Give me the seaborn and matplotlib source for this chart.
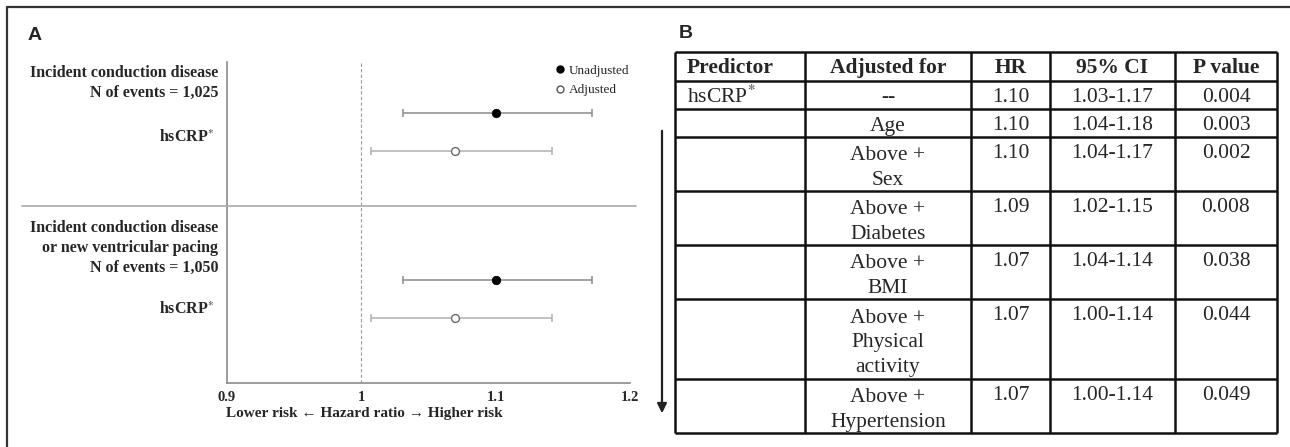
#!/usr/bin/env python3

import numpy as np
import matplotlib
matplotlib.use("Agg")
import matplotlib.pyplot as plt
from matplotlib.lines import Line2D
import pandas as pd
import seaborn as sns
sns.set_style("white")
plt.rcParams['font.family'] = ['Liberation Serif', 'DejaVu Serif']
plt.rcParams['mathtext.fontset'] = 'stix'

W, H = 1290, 447

# ---- panel A data
outcomes = ["Incident conduction disease\nN of events = 1,025",
            "Incident conduction disease\nor new ventricular pacing\nN of events = 1,050"]
models = ["Unadjusted", "Adjusted"]
hr = [1.10, 1.07, 1.10, 1.07]
ci_low = [1.031, 1.007, 1.031, 1.007]
ci_high = [1.172, 1.142, 1.172, 1.142]
x_ticks = [0.9, 1.0, 1.1, 1.2]
x_ticklabels = ["0.9", "1", "1.1", "1.2"]

# ---- panel B data
header = ["Predictor", "Adjusted for", "HR", "95% CI", "P value"]
predictor = ["hsCRP$^{*}$", "", "", "", "", "", ""]
adjusted_for = ["--", "Age", "Above +\nSex", "Above +\nDiabetes", "Above +\nBMI",
                "Above +\nPhysical\nactivity", "Above +\nHypertension"]
table_hr = ["1.10", "1.10", "1.10", "1.09", "1.07", "1.07", "1.07"]
table_ci = ["1.03-1.17", "1.04-1.18", "1.04-1.17", "1.02-1.15", "1.04-1.14", "1.00-1.14", "1.00-1.14"]
table_p = ["0.004", "0.003", "0.002", "0.008", "0.038", "0.044", "0.049"]


def fx(x):
    return x / W


def fy(y):
    return 1 - y / H


def plot_forest(fig):
    # axes placed in pixel space, y in pixels from axes top
    ax = fig.add_axes([fx(227), fy(383), fx(403), 321 / H])
    rows = []
    for g in range(len(outcomes)):
        for m, model in enumerate(models):
            i = g * len(models) + m
            rows.append(dict(outcome=g, model=model, hr=hr[i], lo=ci_low[i], hi=ci_high[i],
                             y=51 + g * 167 + m * 38))
    df = pd.DataFrame(rows)

    ax.axvline(1.0, color='#9a9a9a', lw=0.8, ls=(0, (3, 2)), zorder=1)
    for model, col in zip(models, ['#8a8a8a', '#b0b0b0']):
        d = df[df.model == model]
        ax.errorbar(d.hr, d.y, xerr=[d.hr - d.lo, d.hi - d.hr], fmt='none',
                    ecolor=col, elinewidth=1.1, capsize=3, capthick=1.1, zorder=2)
    un = df[df.model == "Unadjusted"]
    ad = df[df.model == "Adjusted"]
    sns.scatterplot(data=un, x='hr', y='y', color='black', s=38, edgecolor='black',
                    linewidth=0.5, ax=ax, zorder=3)
    sns.scatterplot(data=ad, x='hr', y='y', color='white', s=32, edgecolor='#6a6a6a',
                    linewidth=1.0, ax=ax, zorder=3)

    ax.set_xlim(0.9, 1.2)
    ax.set_ylim(321, 0)
    ax.set_xticks(x_ticks)
    ax.set_xticklabels(x_ticklabels, fontweight='bold', fontsize=10.5)
    ax.set_yticks([])
    ax.tick_params(axis='x', length=0, pad=6)
    ax.set_xlabel('')
    ax.set_ylabel('')
    sns.despine(ax=ax)
    for s in ['left', 'bottom']:
        ax.spines[s].set_color('#8c8c8c')
        ax.spines[s].set_linewidth(1.2)

    handles = [Line2D([], [], marker='o', ls='none', color='black', markersize=5),
               Line2D([], [], marker='o', ls='none', markerfacecolor='white',
                      markeredgecolor='#555555', markersize=5)]
    ax.legend(handles, models, loc='upper left', bbox_to_anchor=(fx(548), fy(58)),
              bbox_transform=fig.transFigure, frameon=False, fontsize=9.5,
              handlelength=0.8, handletextpad=0.3, labelspacing=0.55, borderpad=0)

    # outcome labels
    centers = [83, 248]
    hs = [138, 310]
    for g in range(len(outcomes)):
        fig.text(fx(218), fy(centers[g]), outcomes[g], ha='right', va='center',
                 fontweight='bold', fontsize=11.5, linespacing=1.3)
        fig.text(fx(214), fy(hs[g]), "hsCRP$^{*}$", ha='right', va='center',
                 fontweight='bold', fontsize=11.5)

    fig.text(fx(364), fy(413), "Lower risk \u2190 Hazard ratio \u2192 Higher risk",
             ha='center', va='center', fontweight='bold', fontsize=11)
    fig.add_artist(Line2D([fx(22), fx(636)], [fy(206), fy(206)], color='#aaaaaa', lw=1.2))


def plot_table(fig):
    left, right, top, bottom = 675, 1277, 52, 433
    ax = fig.add_axes([fx(left), fy(bottom), fx(right - left), (bottom - top) / H])
    ax.set_xlim(left, right)
    ax.set_ylim(bottom, top)
    ax.axis('off')

    col_edges = [675, 805, 971, 1050, 1175, 1277]
    centers = [(a + b) / 2 for a, b in zip(col_edges[:-1], col_edges[1:])]
    nlines = [s.count('\n') + 1 for s in adjusted_for]
    row_edges = [top, top + 29]
    for n in nlines:
        row_edges.append(row_edges[-1] + 26 * n + 2)

    ax.hlines(row_edges, left, right, color='#111111', lw=1.8, clip_on=False)
    ax.vlines(col_edges, top, row_edges[-1], color='#111111', lw=1.8, clip_on=False)

    fs = 15.5
    for j, h in enumerate(header):
        x = 687 if j == 0 else centers[j]
        ax.text(x, top + 16, h, ha='left' if j == 0 else 'center', va='center',
                fontweight='bold', fontsize=fs)
    for i in range(len(adjusted_for)):
        t = row_edges[i + 1]
        n = nlines[i]
        ax.text(687, t + 16, predictor[i], ha='left', va='center', fontsize=fs)
        ax.text(centers[1], t + 17 + 13 * (n - 1) + (1 if n > 1 else 0), adjusted_for[i],
                ha='center', va='center', fontsize=fs, linespacing=1.42)
        ax.text(centers[2], t + 16, table_hr[i], ha='center', va='center', fontsize=fs)
        ax.text(centers[3], t + 16, table_ci[i], ha='center', va='center', fontsize=fs)
        ax.text(centers[4], t + 16, table_p[i], ha='center', va='center', fontsize=fs)


def main():
    fig = plt.figure(figsize=(W / 100, H / 100), dpi=100)

    # outer frame (left and top edges)
    fig.add_artist(Line2D([fx(7), fx(7)], [fy(7), 0], color='#333333', lw=1.6))
    fig.add_artist(Line2D([fx(7), 1], [fy(7), fy(7)], color='#333333', lw=1.6))

    fig.text(fx(28), fy(35), "A", ha='left', va='center', fontweight='bold', fontsize=14,
             family=['Liberation Sans', 'DejaVu Sans'])
    fig.text(fx(679), fy(33), "B", ha='left', va='center', fontweight='bold', fontsize=14,
             family=['Liberation Sans', 'DejaVu Sans'])

    plot_forest(fig)
    plot_table(fig)

    fig.add_artist(matplotlib.patches.FancyArrowPatch((fx(662), fy(128)), (fx(662), fy(416)),
                   transform=fig.transFigure, arrowstyle='-|>', mutation_scale=14,
                   color='#222222', lw=1.6))

    fig.savefig('out.png', dpi=100)


if __name__ == "__main__":
    main()
